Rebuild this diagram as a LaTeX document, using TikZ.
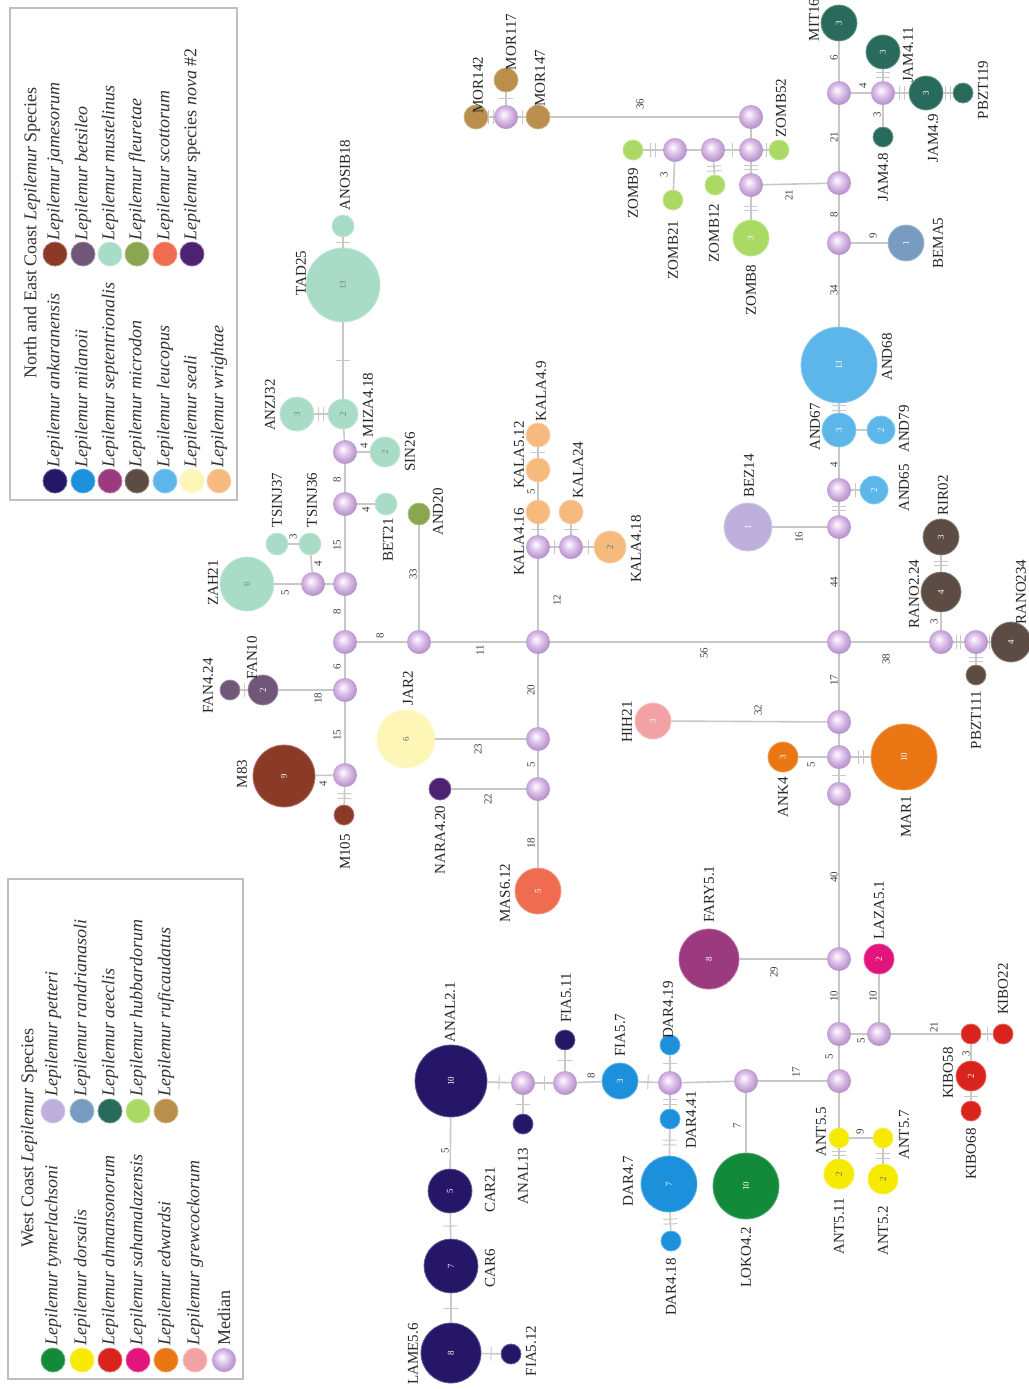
\documentclass[tikz,border=0pt]{standalone}
\usepackage{fontspec}
\setmainfont{Liberation Serif}
\usetikzlibrary{decorations.markings}
\definecolor{edgecol}{RGB}{200,200,200}
\definecolor{ank}{RGB}{38,22,104}
\definecolor{mil}{RGB}{28,144,218}
\definecolor{sep}{RGB}{156,58,128}
\definecolor{mic}{RGB}{92,76,68}
\definecolor{leu}{RGB}{92,182,234}
\definecolor{sea}{RGB}{253,246,182}
\definecolor{wri}{RGB}{246,186,126}
\definecolor{jam}{RGB}{140,58,40}
\definecolor{bet}{RGB}{112,86,120}
\definecolor{mus}{RGB}{168,220,198}
\definecolor{fle}{RGB}{138,166,80}
\definecolor{sco}{RGB}{240,108,80}
\definecolor{nov}{RGB}{78,34,114}
\definecolor{tym}{RGB}{18,138,58}
\definecolor{dor}{RGB}{246,234,0}
\definecolor{ahm}{RGB}{216,36,28}
\definecolor{sah}{RGB}{226,20,126}
\definecolor{edw}{RGB}{234,118,20}
\definecolor{gre}{RGB}{242,162,164}
\definecolor{pet}{RGB}{190,176,220}
\definecolor{ran}{RGB}{120,156,192}
\definecolor{aee}{RGB}{40,106,92}
\definecolor{hub}{RGB}{170,218,100}
\definecolor{rfc}{RGB}{186,142,76}
\definecolor{medlight}{RGB}{240,224,246}
\definecolor{medcol}{RGB}{212,180,228}
\definecolor{meddark}{RGB}{184,150,204}
\pgfdeclareradialshading{medball}{\pgfqpoint{-5bp}{6bp}}{color(0bp)=(white); color(6bp)=(medlight); color(16bp)=(medcol); color(25bp)=(meddark); color(50bp)=(meddark)}
\newcommand{\hlabfont}{\fontsize{7.5}{8}\selectfont}
\newcommand{\hwtfont}{\fontsize{5.5}{6}\selectfont}
\newcommand{\hnumfont}{\fontsize{4.5}{5}\selectfont}
\newcommand{\hlegfont}{\fontsize{9}{10}\selectfont}
\tikzset{
  edge/.style={draw=edgecol, line width=0.8pt},
  tkline/.style={draw=edgecol, line width=0.5pt},
  tk/.style={postaction={decorate, decoration={markings, mark=at position #1 with {\draw[tkline] (0pt,-3.5pt) -- (0pt,3.5pt);}}}},
  tk/.default=0.5,
  tkk/.style={postaction={decorate, decoration={markings, mark=at position #1 with {\draw[tkline] (-1.2pt,-3.5pt) -- (-1.2pt,3.5pt) (1.2pt,-3.5pt) -- (1.2pt,3.5pt);}}}},
  tkk/.default=0.5,
  hap/.style 2 args={circle, inner sep=0pt, minimum size=#2, fill=#1, draw=#1!70!white, line width=0.4pt, text=white, font=\hnumfont, rotate=90},
  med/.style={circle, inner sep=0pt, minimum size=12pt, shading=medball, draw=none},
  lab/.style={rotate=90, font=\hlabfont, inner sep=0pt, text=black!85},
  wt/.style={rotate=90, font=\hwtfont, inner sep=0pt, text=black!75},
  legtxt/.style={rotate=90, font=\hlegfont, inner sep=0pt, anchor=west, text=black!80},
  legbox/.style={draw=black!25, line width=0.6pt},
}
\begin{document}
\begin{tikzpicture}[x=0.5pt,y=-0.5pt]
\useasboundingbox (0,0) rectangle (1029,1389);
\fill[white] (0,0) rectangle (1029,1389);

% ---------------- legends ----------------
\draw[legbox] (10,8) rectangle (237,500);
\node[rotate=90, font=\hlegfont, inner sep=0pt, text=black!80] (ttlNE) at (32,233) {North and East Coast \textit{Lepilemur} Species};
\foreach \n/\c/\x/\t in {1/ank/55/ankaranensis, 2/mil/83/milanoii, 3/sep/110/septentrionalis, 4/mic/137/microdon, 5/leu/165/leucopus, 6/sea/192/seali, 7/wri/219/wrightae}{
  \node[hap={\c}{12pt}] (lgL\n) at (\x,481) {};
  \node[legtxt] (ltL\n) at (\x,468) {\textit{Lepilemur \t}};
}
\foreach \n/\c/\x/\t in {1/jam/55/jamesorum, 2/bet/83/betsileo, 3/mus/110/mustelinus, 4/fle/137/fleuretae, 5/sco/165/scottorum}{
  \node[hap={\c}{12pt}] (lgR\n) at (\x,254) {};
  \node[legtxt] (ltR\n) at (\x,241) {\textit{Lepilemur \t}};
}
\node[hap={nov}{12pt}] (lgR6) at (192,254) {};
\node[legtxt] (ltR6) at (192,241) {\textit{Lepilemur} species \textit{nova} \#2};

\draw[legbox] (8,879) rectangle (243,1379);
\node[rotate=90, font=\hlegfont, inner sep=0pt, text=black!80] (ttlW) at (29,1138) {West Coast \textit{Lepilemur} Species};
\foreach \n/\c/\x/\t in {1/tym/53/tymerlachsoni, 2/dor/82/dorsalis, 3/ahm/110/ahmansonorum, 4/sah/138/sahamalazensis, 5/edw/166/edwardsi, 6/gre/195/grewcockorum}{
  \node[hap={\c}{12pt}] (lgW\n) at (\x,1360) {};
  \node[legtxt] (ltW\n) at (\x,1346) {\textit{Lepilemur \t}};
}
\node[med] (lgW7) at (224,1360) {};
\node[legtxt] (ltW7) at (224,1346) {Median};
\foreach \n/\c/\x/\t in {1/pet/53/petteri, 2/ran/82/randrianasoli, 3/aee/110/aeeclis, 4/hub/138/hubbardorum, 5/rfc/166/ruficaudatus}{
  \node[hap={\c}{12pt}] (lgV\n) at (\x,1111) {};
  \node[legtxt] (ltV\n) at (\x,1097) {\textit{Lepilemur \t}};
}

% ---------------- haplotypes: north / east ----------------
\node[hap={mus}{11pt}] (ANOSIB18) at (343,226) {};
\node[hap={mus}{37pt}, text=black!50] (TAD25) at (343,285) {13};
\node[hap={mus}{15pt}, text=black!50] (MIZA418) at (343,414) {2};
\node[hap={mus}{17pt}, text=black!50] (ANZJ32) at (297,414) {3};
\node[hap={mus}{15pt}, text=black!50] (SIN26) at (385,452) {2};
\node[hap={mus}{11pt}] (BET21) at (386,504) {};
\node[hap={fle}{11pt}] (AND20) at (419,514) {};
\node[hap={mus}{11pt}] (TSINJ37) at (277,544) {};
\node[hap={mus}{11pt}] (TSINJ36) at (310,544) {};
\node[hap={mus}{27pt}, text=black!50] (ZAH21) at (247,584) {6};
\node[hap={bet}{15pt}] (FAN10) at (263,690) {2};
\node[hap={bet}{10pt}] (FAN424) at (230,690) {};
\node[hap={jam}{31pt}] (M83) at (284,776) {9};
\node[hap={jam}{10pt}] (M105) at (344,815) {};
\node[hap={sea}{29pt}, text=black!60] (JAR2) at (406,739) {6};
\node[hap={nov}{11pt}] (NARA420) at (440,789) {};
\node[hap={sco}{23pt}] (MAS612) at (538,891) {5};
\node[hap={wri}{12pt}] (KALA416) at (538,512) {};
\node[hap={wri}{12pt}] (KALA512) at (538,470) {};
\node[hap={wri}{12pt}] (KALA49) at (538,435) {};
\node[hap={wri}{12pt}] (KALA24) at (571,512) {};
\node[hap={wri}{16pt}, text=black!60] (KALA418) at (610,547) {2};
\node[hap={rfc}{12pt}] (MOR142) at (476,117) {};
\node[hap={rfc}{12pt}] (MOR117) at (506,80) {};
\node[hap={rfc}{12pt}] (MOR147) at (538,117) {};
\node[hap={hub}{10pt}] (ZOMB9) at (633,150) {};
\node[hap={hub}{10pt}] (ZOMB21) at (673,200) {};
\node[hap={hub}{10pt}] (ZOMB12) at (715,185) {};
\node[hap={hub}{10pt}] (ZOMB52) at (779,150) {};
\node[hap={hub}{18pt}] (ZOMB8) at (751,238) {3};
\node[hap={aee}{18pt}] (MIT16) at (839,23) {3};
\node[hap={aee}{17pt}] (JAM411) at (883,52) {3};
\node[hap={aee}{17pt}] (JAM49) at (926,93) {3};
\node[hap={aee}{10pt}] (PBZT119) at (963,93) {};
\node[hap={aee}{10pt}] (JAM48) at (883,137) {};
\node[hap={ran}{18pt}] (BEMA5) at (906,243) {1};
\node[hap={leu}{38pt}] (AND68) at (839,365) {13};
\node[hap={leu}{17pt}] (AND67) at (839,430) {3};
\node[hap={leu}{14pt}] (AND79) at (881,430) {2};
\node[hap={leu}{14pt}] (AND65) at (874,490) {2};
\node[hap={pet}{24pt}] (BEZ14) at (748,527) {1};
\node[hap={mic}{18pt}] (RIR02) at (941,537) {3};
\node[hap={mic}{20pt}] (RANO224) at (941,592) {4};
\node[hap={mic}{20pt}] (RANO234) at (1011,642) {4};
\node[hap={mic}{10pt}] (PBZT111) at (976,675) {};

% ---------------- haplotypes: west ----------------
\node[hap={gre}{18pt}] (HIH21) at (653,721) {3};
\node[hap={edw}{15pt}] (ANK4) at (783,757) {3};
\node[hap={edw}{33pt}] (MAR1) at (904,757) {10};
\node[hap={sep}{30pt}] (FARY51) at (709,959) {8};
\node[hap={sah}{15pt}] (LAZA51) at (879,959) {2};
\node[hap={ahm}{10pt}] (KIBOa) at (971,1034) {};
\node[hap={ahm}{10pt}] (KIBO22) at (1003,1034) {};
\node[hap={ahm}{15pt}] (KIBO58) at (971,1076) {2};
\node[hap={ahm}{10pt}] (KIBO68) at (971,1111) {};
\node[hap={dor}{10pt}] (ANT55) at (839,1138) {};
\node[hap={dor}{15pt}, text=black!60] (ANT511) at (839,1174) {2};
\node[hap={dor}{10pt}] (ANT57) at (883,1138) {};
\node[hap={dor}{15pt}, text=black!60] (ANT52) at (883,1179) {2};
\node[hap={tym}{33pt}] (LOKO42) at (746,1186) {10};
\node[hap={mil}{10pt}] (DAR419) at (670,1045) {};
\node[hap={mil}{10pt}] (DAR441) at (670,1119) {};
\node[hap={mil}{28pt}] (DAR47) at (669,1184) {7};
\node[hap={mil}{10pt}] (DAR418) at (671,1241) {};
\node[hap={mil}{18pt}] (FIA57) at (620,1081) {3};
\node[hap={ank}{10pt}] (FIA511) at (565,1040) {};
\node[hap={ank}{36pt}] (ANAL21) at (451,1081) {10};
\node[hap={ank}{10pt}] (ANAL13) at (523,1124) {};
\node[hap={ank}{22pt}] (CAR21) at (450,1191) {5};
\node[hap={ank}{27pt}] (CAR6) at (451,1266) {7};
\node[hap={ank}{30pt}] (LAME56) at (451,1353) {8};
\node[hap={ank}{10pt}] (FIA512) at (511,1354) {};

% ---------------- medians ----------------
\foreach \n/\x/\y in {1/345/452, 2/345/504, 3/345/584, 4/345/642, 5/345/690, 6/345/775,
  7/313/584, 8/419/642, 9/538/642, 10/538/547, 11/571/547, 12/538/739, 13/538/789,
  14/506/117, 15/675/150, 16/713/150, 17/751/150, 18/751/117, 19/751/185,
  20/839/93, 21/883/93, 22/839/183, 23/839/243, 24/839/490, 25/839/527, 26/839/642,
  27/839/722, 28/839/757, 29/839/794, 30/839/959, 31/839/1034, 32/879/1034, 33/839/1081,
  34/941/642, 35/976/642, 36/523/1083, 37/565/1083, 38/670/1083, 39/746/1081}{
  \node[med] (m\n) at (\x,\y) {};
}

% ---------------- connectors ----------------
\draw[edge, tk] (ANOSIB18) -- (TAD25);
\draw[edge, tk] (TAD25) -- (MIZA418);
\draw[edge, tkk] (ANZJ32) -- (MIZA418);
\draw[edge] (MIZA418) -- (m1);
\draw[edge] (m1) -- (SIN26);
\draw[edge] (m1) -- (m2);
\draw[edge] (m2) -- (BET21);
\draw[edge] (m2) -- (m3);
\draw[edge] (m3) -- (m7);
\draw[edge] (m7) -- (ZAH21);
\draw[edge] (m7) -- (TSINJ36);
\draw[edge] (TSINJ36) -- (TSINJ37);
\draw[edge] (m3) -- (m4);
\draw[edge] (m4) -- (m5);
\draw[edge] (m5) -- (FAN10);
\draw[edge, tk] (FAN10) -- (FAN424);
\draw[edge] (m5) -- (m6);
\draw[edge] (m6) -- (M83);
\draw[edge, tkk] (m6) -- (M105);
\draw[edge] (m4) -- (m8);
\draw[edge] (m8) -- (AND20);
\draw[edge] (m8) -- (m9);
\draw[edge] (m9) -- (m10);
\draw[edge, tk] (m10) -- (KALA416);
\draw[edge] (KALA416) -- (KALA512);
\draw[edge, tk] (KALA512) -- (KALA49);
\draw[edge, tk] (m10) -- (m11);
\draw[edge, tk] (m11) -- (KALA24);
\draw[edge, tk] (m11) -- (KALA418);
\draw[edge] (m9) -- (m12);
\draw[edge] (m12) -- (JAR2);
\draw[edge] (m12) -- (m13);
\draw[edge] (m13) -- (NARA420);
\draw[edge] (m13) -- (MAS612);
\draw[edge] (m9) -- (m26);
\draw[edge] (m26) -- (m25);
\draw[edge] (m25) -- (BEZ14);
\draw[edge, tkk] (m25) -- (m24);
\draw[edge, tk] (m24) -- (AND65);
\draw[edge] (m24) -- (AND67);
\draw[edge] (AND67) -- (AND79);
\draw[edge, tkk] (AND67) -- (AND68);
\draw[edge] (AND68) -- (m23);
\draw[edge] (m23) -- (BEMA5);
\draw[edge] (m23) -- (m22);
\draw[edge] (m22) -- (m19);
\draw[edge] (m22) -- (m20);
\draw[edge] (m20) -- (MIT16);
\draw[edge] (m20) -- (m21);
\draw[edge, tkk] (m21) -- (JAM411);
\draw[edge, tkk] (m21) -- (JAM49);
\draw[edge, tkk] (JAM49) -- (PBZT119);
\draw[edge] (m21) -- (JAM48);
\draw[edge, tkk] (m19) -- (ZOMB8);
\draw[edge, tkk] (m19) -- (m17);
\draw[edge, tk] (m17) -- (ZOMB52);
\draw[edge] (m17) -- (m18);
\draw[edge, tk] (m17) -- (m16);
\draw[edge, tkk] (m16) -- (ZOMB12);
\draw[edge] (m16) -- (m15);
\draw[edge, tkk] (m15) -- (ZOMB9);
\draw[edge] (m15) -- (ZOMB21);
\draw[edge] (m18) -- (MOR147);
\draw[edge, tk] (MOR147) -- (m14);
\draw[edge, tkk] (m14) -- (MOR142);
\draw[edge, tk] (m14) -- (MOR117);
\draw[edge] (m26) -- (m34);
\draw[edge] (m34) -- (RANO224);
\draw[edge, tkk] (RANO224) -- (RIR02);
\draw[edge, tkk] (m34) -- (m35);
\draw[edge, tk] (m35) -- (RANO234);
\draw[edge, tkk] (m35) -- (PBZT111);
\draw[edge] (m26) -- (m27);
\draw[edge] (m27) -- (HIH21);
\draw[edge] (m27) -- (m28);
\draw[edge] (m28) -- (ANK4);
\draw[edge, tkk] (m28) -- (MAR1);
\draw[edge, tk] (m28) -- (m29);
\draw[edge] (m29) -- (m30);
\draw[edge] (m30) -- (FARY51);
\draw[edge] (m30) -- (m31);
\draw[edge] (m31) -- (m32);
\draw[edge] (m32) -- (LAZA51);
\draw[edge] (m32) -- (KIBOa);
\draw[edge, tk] (KIBOa) -- (KIBO22);
\draw[edge] (KIBOa) -- (KIBO58);
\draw[edge, tk] (KIBO58) -- (KIBO68);
\draw[edge] (m31) -- (m33);
\draw[edge] (m33) -- (ANT55);
\draw[edge, tkk] (ANT55) -- (ANT511);
\draw[edge] (ANT55) -- (ANT57);
\draw[edge, tkk] (ANT57) -- (ANT52);
\draw[edge] (m33) -- (m39);
\draw[edge] (m39) -- (LOKO42);
\draw[edge] (m39) -- (m38);
\draw[edge, tk] (m38) -- (DAR419);
\draw[edge, tkk] (m38) -- (DAR441);
\draw[edge, tkk] (DAR441) -- (DAR47);
\draw[edge, tkk] (DAR47) -- (DAR418);
\draw[edge, tk] (m38) -- (FIA57);
\draw[edge] (FIA57) -- (m37);
\draw[edge, tk] (m37) -- (FIA511);
\draw[edge, tk] (m37) -- (m36);
\draw[edge, tk] (m36) -- (ANAL13);
\draw[edge, tk] (m36) -- (ANAL21);
\draw[edge] (ANAL21) -- (CAR21);
\draw[edge, tk] (CAR21) -- (CAR6);
\draw[edge, tk] (CAR6) -- (LAME56);
\draw[edge, tk] (LAME56) -- (FIA512);

% ---------------- haplotype labels ----------------
\foreach \n/\x/\y/\t in {
  ANOSIB18/345/175/ANOSIB18, TAD25/301/273/TAD25, MIZA418/368/405/MIZA4.18, ANZJ32/270/405/ANZJ32,
  SIN26/410/452/SIN26, BET21/388/540/BET21, AND20/438/512/AND20, TSINJ37/277/500/TSINJ37,
  TSINJ36/312/500/TSINJ36, ZAH21/213/583/ZAH21, FAN10/252/658/FAN10, FAN424/208/686/FAN4.24,
  M83/242/774/M83, M105/345/852/M105, JAR2/408/688/JAR2, NARA420/440/840/NARA4.20,
  MAS612/505/893/MAS6.12, KALA416/519/542/KALA4.16, KALA512/519/455/KALA5.12, KALA49/541/391/KALA4.9,
  KALA24/578/470/KALA24, KALA418/636/549/KALA4.18, MOR142/478/85/MOR142, MOR117/511/42/MOR117,
  MOR147/540/78/MOR147, ZOMB9/633/193/ZOMB9, ZOMB21/673/250/ZOMB21, ZOMB12/714/233/ZOMB12,
  ZOMB52/781/108/ZOMB52, ZOMB8/751/290/ZOMB8, MIT16/814/20/MIT16, JAM411/908/55/JAM4.11,
  JAM49/933/138/JAM4.9, PBZT119/983/90/PBZT119, JAM48/883/177/JAM4.8, BEMA5/938/243/BEMA5,
  AND68/887/357/AND68, AND67/815/427/AND67, AND79/904/429/AND79, AND65/904/488/AND65,
  BEZ14/749/476/BEZ14, RIR02/943/495/RIR02, RANO224/914/594/RANO2.24, RANO234/1021/592/RANO234,
  PBZT111/976/720/PBZT111, HIH21/627/722/HIH21, ANK4/783/797/ANK4, MAR1/906/817/MAR1,
  FARY51/709/894/FARY5.1, LAZA51/879/910/LAZA5.1, KIBO22/1003/989/KIBO22, KIBO58/948/1073/KIBO58,
  KIBO68/971/1154/KIBO68, ANT55/821/1132/ANT5.5, ANT511/839/1226/ANT5.11, ANT57/904/1135/ANT5.7,
  ANT52/883/1231/ANT5.2, LOKO42/746/1257/LOKO4.2, DAR419/668/1010/DAR4.19, DAR441/691/1120/DAR4.41,
  DAR47/628/1181/DAR4.7, DAR418/671/1287/DAR4.18, FIA57/620/1035/FIA5.7, FIA511/566/998/FIA5.11,
  ANAL21/450/1012/ANAL2.1, ANAL13/523/1176/ANAL13, CAR21/490/1190/CAR21, CAR6/490/1268/CAR6,
  LAME56/413/1354/LAME5.6, FIA512/531/1351/FIA5.12}{
  \node[lab] (l\n) at (\x,\y) {\t};
}

% ---------------- mutation counts ----------------
\foreach \n/\x/\y/\t in {
  a/364/446/4, b/337/480/8, c/366/510/4, d/337/545/15, e/318/564/4, f/293/537/3, g/285/593/5,
  h/337/612/8, i/337/667/6, j/318/698/18, k/337/735/15, l/323/784/4, m/380/636/8, n/413/574/33,
  o/480/650/11, p/557/600/12, q/531/492/5, r/531/690/20, s/478/749/23, t/531/765/5, u/488/799/22,
  v/531/843/18, w/640/104/36, x/664/175/3, y/789/195/21, z/834/58/6, aa/863/86/4, ab/877/115/3,
  ac/834/137/21, ad/834/215/8, ae/873/236/9, af/834/290/34, ag/834/465/4, ah/799/537/16,
  ai/834/582/44, aj/704/653/56, ak/886/659/38, al/934/622/3, am/834/680/17, an/758/710/32,
  ao/811/765/5, ap/834/877/40, aq/774/972/29, ar/834/996/10, as/873/996/10, at/861/1041/5,
  au/934/1027/21, av/966/1054/3, aw/829/1057/5, ax/796/1072/17, ay/737/1126/7, az/860/1132/9,
  ba/591/1076/8, bb/445/1151/5}{
  \node[wt] (w\n) at (\x,\y) {\t};
}
\end{tikzpicture}
\end{document}
